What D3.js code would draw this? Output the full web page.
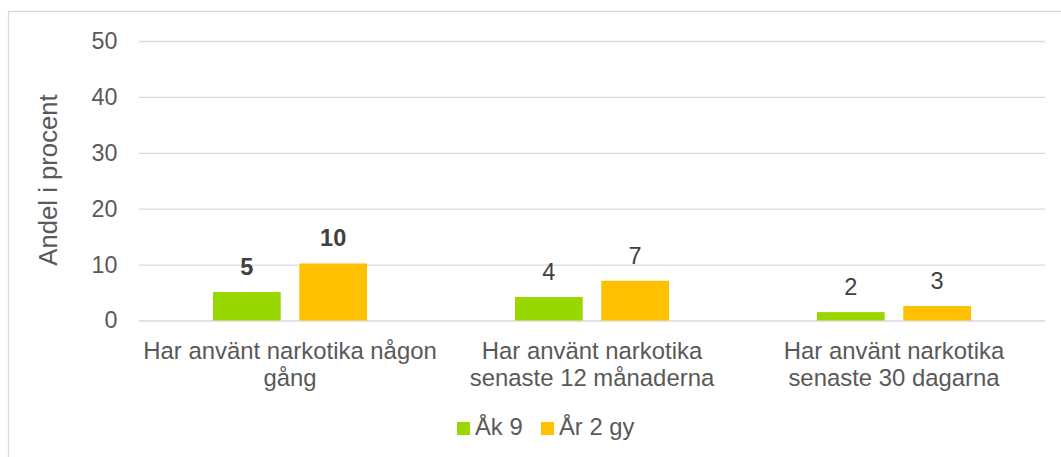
<!DOCTYPE html>
<html>
<head>
<meta charset="utf-8">
<script src="https://cdn.jsdelivr.net/npm/d3@7"></script>
<style>
  body { margin: 0; background: #fff; }
  svg { display: block; font-family: "Liberation Sans", Arial, sans-serif; }
  .grid line { stroke: #d9d9d9; stroke-width: 1.3; }
  .grid text { fill: #595959; font-size: 23.3px; }
  .cat text { fill: #595959; font-size: 23.9px; }
</style>
</head>
<body>
<script>
// data
var categories = [
    "Har använt narkotika någon\ngång",
    "Har använt narkotika\nsenaste 12 månaderna",
    "Har använt narkotika\nsenaste 30 dagarna"];
var seriesNames = ["Åk 9", "År 2 gy"];
var ak9 = [5.1, 4.2, 1.5];
var ar2gy = [10.2, 7.1, 2.6];
var yTicks = [0, 10, 20, 30, 40, 50];
var boldGroup = 0;

var colors = ["#99d700", "#ffc000"];

// note: "top" is taken by window.top, so plot* names
var width = 1061, height = 457,
    plotLeft = 139, plotRight = 1045,
    plotTop = 41, plotBottom = 320.5;

var svg = d3.select("body").append("svg")
    .attr("width", width)
    .attr("height", height);

// outer frame
svg.append("rect")
    .attr("x", 8.5).attr("y", 11.5)
    .attr("width", width).attr("height", height)
    .attr("fill", "none")
    .attr("stroke", "#d9d9d9")
    .attr("stroke-width", 1.3);

var x = d3.scaleBand().domain(d3.range(categories.length)).range([plotLeft, plotRight]);
var xs = d3.scaleBand().domain(d3.range(seriesNames.length))
    .range([0, x.bandwidth()])
    .paddingInner(0.2155).paddingOuter(0.857);
var y = d3.scaleLinear().domain([0, 50]).range([plotBottom, plotTop]);

var yAxis = svg.append("g")
    .attr("class", "grid")
    .attr("transform", "translate(" + plotLeft + ",0)")
    .call(d3.axisLeft(y).tickValues(yTicks).tickSize(-(plotRight - plotLeft)).tickPadding(21.5));
yAxis.select(".domain").remove();

// y title
svg.append("text")
    .attr("transform", "translate(56.5,180) rotate(-90)")
    .attr("text-anchor", "middle")
    .attr("fill", "#595959")
    .style("font-size", "25.7px")
    .text("Andel i procent");

// bars
var rows = categories.map(function(c, i){ return [ak9[i], ar2gy[i]]; });
var groups = svg.selectAll("g.group")
    .data(rows)
    .enter()
    .append("g")
    .attr("class", "group")
    .attr("transform", function(d, i){ return "translate(" + x(i) + ",0)"; });

groups.selectAll("rect")
    .data(function(d){ return d; })
    .enter()
    .append("rect")
    .attr("x", function(d, j){ return xs(j); })
    .attr("y", function(d){ return y(d); })
    .attr("width", xs.bandwidth())
    .attr("height", function(d){ return plotBottom - y(d); })
    .attr("fill", function(d, j){ return colors[j]; });

groups.each(function(d, i){
    d3.select(this).selectAll("text")
        .data(d)
        .enter()
        .append("text")
        .attr("x", function(v, j){ return xs(j) + xs.bandwidth() / 2; })
        .attr("y", function(v){ return y(v) - 17; })
        .attr("text-anchor", "middle")
        .attr("fill", "#404040")
        .style("font-size", "23.5px")
        .style("font-weight", i === boldGroup ? "bold" : "normal")
        .text(function(v){ return Math.round(v); });
});

// category labels
var cat = svg.append("g")
    .attr("class", "cat");
cat.selectAll("text")
    .data(categories)
    .enter()
    .append("text")
    .attr("text-anchor", "middle")
    .attr("transform", function(d, i){ return "translate(" + (x(i) + x.bandwidth() / 2) + ",359)"; })
    .each(function(d){
        var t = d3.select(this);
        d.split("\n").forEach(function(line, k){
            t.append("tspan")
                .attr("x", 0)
                .attr("y", k * 26.5)
                .text(line);
        });
    });

// legend
var legendX = [457, 541];
var legend = svg.selectAll("g.legend")
    .data(seriesNames)
    .enter()
    .append("g")
    .attr("class", "legend")
    .attr("transform", function(d, i){ return "translate(" + legendX[i] + ",422)"; });
legend.append("rect")
    .attr("width", 13).attr("height", 13)
    .attr("fill", function(d, i){ return colors[i]; });
legend.append("text")
    .attr("x", 18).attr("y", 13)
    .attr("fill", "#595959")
    .style("font-size", "23.8px")
    .text(function(d){ return d; });
</script>
</body>
</html>
